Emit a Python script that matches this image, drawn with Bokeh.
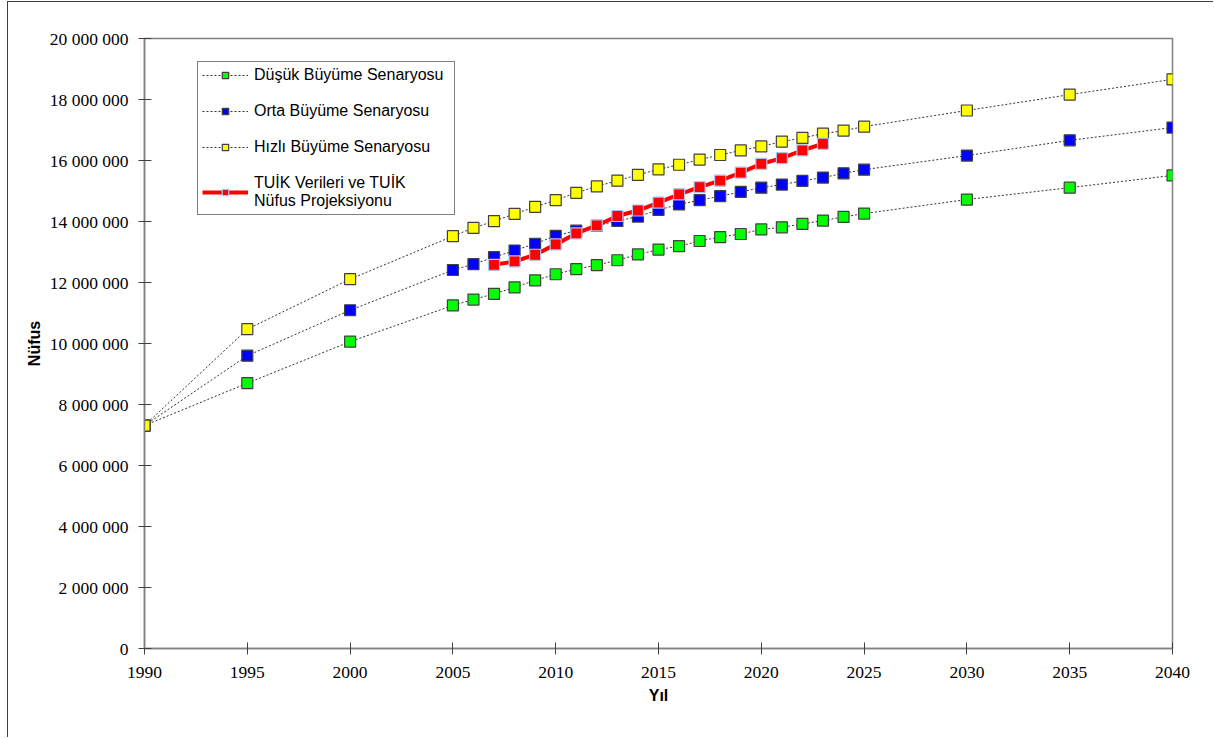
from bokeh.plotting import figure
from bokeh.models import FixedTicker, Legend
from bokeh.embed import file_html
from bokeh.resources import INLINE

years_scen = [1990, 1995, 2000] + list(range(2005, 2026)) + [2030, 2035, 2040]
dusuk = [7.31, 8.70, 10.06,
         11.25, 11.44, 11.63, 11.84, 12.07, 12.27, 12.44, 12.57, 12.73, 12.92, 13.08,
         13.19, 13.36, 13.49, 13.59, 13.74, 13.81, 13.92, 14.03, 14.15, 14.26,
         14.72, 15.11, 15.51]
orta = [7.31, 9.60, 11.09,
        12.41, 12.60, 12.83, 13.05, 13.27, 13.53, 13.70, 13.86, 14.02, 14.16, 14.38,
        14.56, 14.70, 14.83, 14.97, 15.11, 15.21, 15.33, 15.44, 15.58, 15.70,
        16.16, 16.66, 17.08]
hizli = [7.31, 10.47, 12.11,
         13.52, 13.79, 14.01, 14.25, 14.48, 14.70, 14.94, 15.15, 15.34, 15.53, 15.71,
         15.86, 16.03, 16.18, 16.33, 16.46, 16.62, 16.74, 16.88, 16.98, 17.11,
         17.64, 18.16, 18.66]
years_tuik = list(range(2007, 2024))
tuik = [12.58, 12.69, 12.91, 13.25, 13.61, 13.87, 14.18, 14.36, 14.62, 14.89,
        15.13, 15.34, 15.60, 15.89, 16.08, 16.33, 16.55]

y_ticks = [0, 2000000, 4000000, 6000000, 8000000, 10000000, 12000000,
           14000000, 16000000, 18000000, 20000000]
y_tick_labels = ["0", "2 000 000", "4 000 000", "6 000 000", "8 000 000", "10 000 000",
                 "12 000 000", "14 000 000", "16 000 000", "18 000 000", "20 000 000"]
x_ticks = [1990, 1995, 2000, 2005, 2010, 2015, 2020, 2025, 2030, 2035, 2040]

labels = ["Düşük Büyüme Senaryosu", "Orta Büyüme Senaryosu", "Hızlı Büyüme Senaryosu",
          "TUİK Verileri ve TUİK\nNüfus Projeksiyonu"]

p = figure(width=1206, height=736, output_backend="svg", toolbar_location=None,
           x_range=(1990, 2040), y_range=(0, 20000000),
           min_border_left=136, min_border_right=42, min_border_top=36, min_border_bottom=90,
           x_axis_label="Yıl", y_axis_label="Nüfus")
p.styles = {"margin-left": "7px", "margin-top": "1px",
            "border-left": "1px solid #404040", "border-top": "1px solid #404040"}

p.xgrid.visible = False
p.ygrid.visible = False
p.outline_line_color = "#808080"
p.outline_line_width = 1.5

for ax in (p.xaxis[0], p.yaxis[0]):
    ax.axis_line_color = "#808080"
    ax.axis_line_width = 1.5
    ax.major_tick_line_color = "#404040"
    ax.minor_tick_line_color = None
    ax.major_label_text_font = "Liberation Serif"
    ax.major_label_text_font_size = "17.5px"
    ax.major_label_text_color = "black"
    ax.axis_label_text_font = "Liberation Sans"
    ax.axis_label_text_font_style = "bold"
    ax.axis_label_text_font_size = "16px"
    ax.axis_label_text_color = "black"

p.yaxis.ticker = FixedTicker(ticks=y_ticks)
p.yaxis.major_label_overrides = {t: l for t, l in zip(y_ticks, y_tick_labels)}
p.yaxis.major_tick_out = 6
p.yaxis.major_tick_in = 7
p.yaxis.major_label_standoff = 10
p.yaxis.axis_label_standoff = 4

p.xaxis.ticker = FixedTicker(ticks=x_ticks)
p.xaxis.major_tick_out = 6
p.xaxis.major_tick_in = 6
p.xaxis.major_label_standoff = 12
p.xaxis.axis_label_standoff = 6

dot = dict(line_color="#333333", line_width=1, line_dash="2 2")
series = [(dusuk, "#00FF00"), (orta, "#0000FF"), (hizli, "#FFFF00")]
items = []
for (vals, col), lab in zip(series, labels[:3]):
    yv = [v * 1e6 for v in vals]
    r1 = p.line(years_scen, yv, **dot)
    r2 = p.scatter(years_scen, yv, marker="square", size=11, fill_color=col,
                   line_color="#404040", line_width=1.2)
    items.append((lab, [r1, r2]))

yt = [v * 1e6 for v in tuik]
r1 = p.line(years_tuik, yt, line_color="#FF0000", line_width=4)
r2 = p.scatter(years_tuik, yt, marker="square", size=11, fill_color="#FF0000",
               line_color="#A8C4F0", line_width=1.2)
items.append((labels[3], [r1, r2]))

legend = Legend(items=items, location=(53, 433))
legend.border_line_color = "black"
legend.border_line_width = 1
legend.background_fill_color = "white"
legend.background_fill_alpha = 1
legend.label_text_font = "Liberation Sans"
legend.label_text_font_size = "16px"
legend.label_text_line_height = 1.0
legend.label_text_color = "black"
legend.glyph_width = 46
legend.glyph_height = 16
legend.label_height = 16
legend.label_width = 196
legend.label_standoff = 6
legend.spacing = 18
legend.padding = 4
legend.margin = 0
p.add_layout(legend, "center")

open("out.html", "w").write(file_html(p, INLINE))
